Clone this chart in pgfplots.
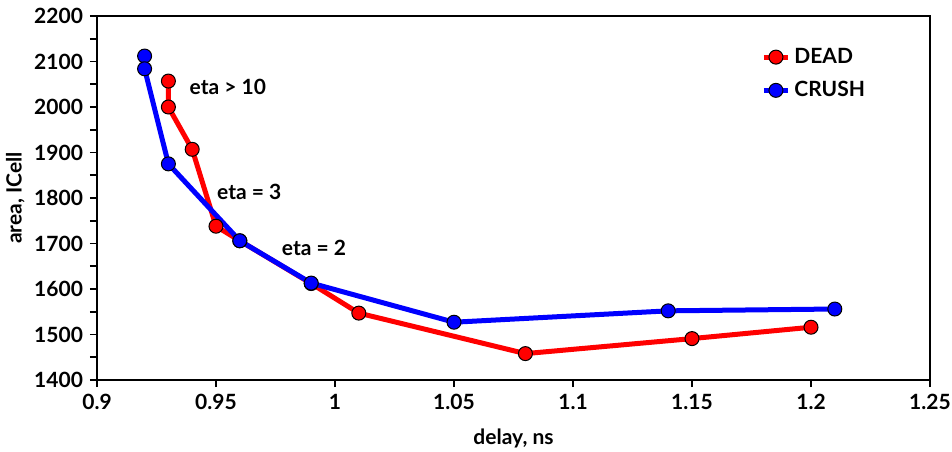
\documentclass[border=0pt]{standalone}
\usepackage{fontspec}
\setmainfont{Lato}
\usepackage{pgfplots}
\pgfplotsset{compat=1.18}
\definecolor{dred}{RGB}{255,0,0}
\definecolor{dblue}{RGB}{0,0,255}
\begin{document}
\begin{tikzpicture}
\begin{axis}[
  at={(0,0)}, anchor=south west,
  scale only axis, width=416.5bp, height=182bp,
  xmin=0.9, xmax=1.25, ymin=1400, ymax=2200,
  xtick={0.9,0.95,...,1.26},
  xticklabels={0.9,0.95,1,1.05,1.1,1.15,1.2,1.25},
  ytick={1400,1500,...,2200},
  minor y tick num=1,
  tick align=outside,
  major tick length=3.5bp, minor tick length=3.5bp,
  xtick pos=bottom, ytick pos=left,
  axis line style={line width=0.8bp},
  every tick/.style={black, line width=0.8bp},
  tick label style={font=\fontsize{10.5bp}{12bp}\selectfont\bfseries},
  /pgf/number format/assume math mode=true,
  yticklabel style={/pgf/number format/1000 sep={}},
  xlabel={delay, ns}, ylabel={area, ICell},
  label style={font=\fontsize{10.5bp}{12bp}\selectfont\bfseries},
  xlabel style={yshift=-3bp},
  ylabel style={yshift=-2bp},
  legend style={draw=none, fill=none, at={(0.79,0.935)}, anchor=north west,
    font=\fontsize{10.5bp}{12bp}\selectfont\bfseries, row sep=3.5bp},
  legend cell align=left,
  legend image code/.code={\draw[mark repeat=2,mark phase=2,#1] plot coordinates {(0bp,0bp) (6bp,0bp) (12bp,0bp)};},
  clip=false,
]
\addplot[dred, line width=2.5bp, mark=*, mark size=3.5bp,
  mark options={fill=dred, draw=black, line width=0.5bp}]
  coordinates {(0.93,2057) (0.93,2000) (0.94,1907) (0.95,1738) (0.96,1706)
  (0.99,1612) (1.01,1547) (1.08,1458) (1.15,1491) (1.20,1516)};
\addlegendentry{DEAD}
\addplot[dblue, line width=2.5bp, mark=*, mark size=3.5bp,
  mark options={fill=dblue, draw=black, line width=0.5bp}]
  coordinates {(0.92,2112) (0.92,2084) (0.93,1875) (0.96,1706)
  (0.99,1613) (1.05,1527) (1.14,1552) (1.21,1556)};
\addlegendentry{CRUSH}
\node[font=\fontsize{10.5bp}{12bp}\selectfont\bfseries] at (axis cs:0.955,2044) {eta > 10};
\node[font=\fontsize{10.5bp}{12bp}\selectfont\bfseries] at (axis cs:0.964,1813) {eta = 3};
\node[font=\fontsize{10.5bp}{12bp}\selectfont\bfseries] at (axis cs:0.9912,1690) {eta = 2};
\end{axis}
\pgfresetboundingbox
\path (-48.5bp,-36bp) rectangle (427.5bp,190bp);
\end{tikzpicture}
\end{document}
